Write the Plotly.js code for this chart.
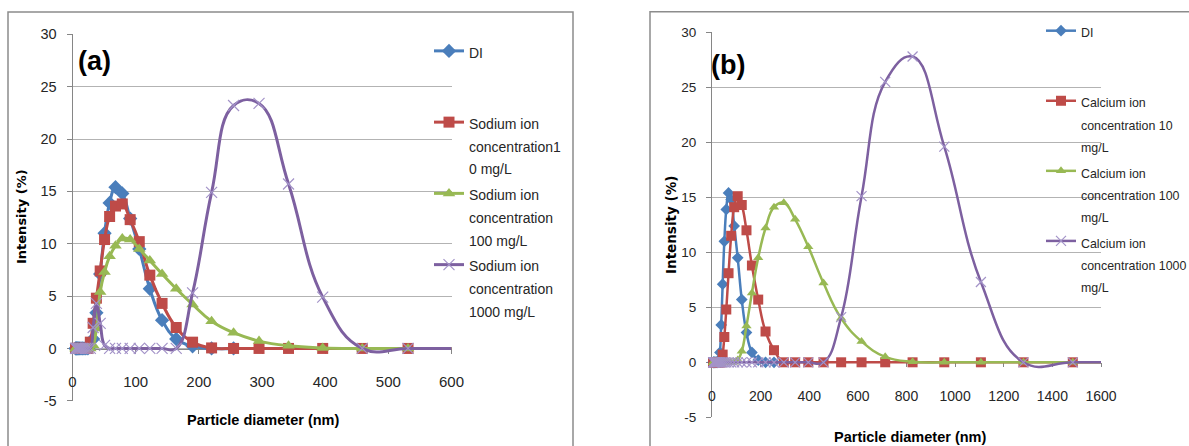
<!DOCTYPE html>
<html>
<head>
<meta charset="utf-8">
<script src="https://cdn.plot.ly/plotly-3.0.1.min.js"></script>
<style>
  html, body { margin: 0; padding: 0; background: #ffffff; }
  #chart { width: 1189px; height: 446px; }
</style>
</head>
<body>
<div id="chart"></div>
<script>
// ---- Data (particle size bins, nm) ----
const diameter = [4.849, 5.615, 6.503, 7.531, 8.721, 10.1, 11.7, 13.54, 15.69, 18.17,
  21.04, 24.36, 28.21, 32.67, 37.84, 43.82, 50.75, 58.77, 68.06, 78.82,
  91.28, 105.7, 122.4, 141.8, 164.2, 190.1, 220.2, 255, 295.3, 342,
  396.1, 458.7, 531.2, 615.1, 712.4, 825, 955.4, 1106, 1281, 1484, 1718];

// DI (same sample in both panels), intensity %
const diIntensity = [0, 0, 0, 0, 0, 0, 0, 0, 0, 0,
  0, 0, 0.2, 0.9, 3.4, 7.1, 11.0, 13.9, 15.4, 14.8,
  12.4, 9.5, 5.7, 2.7, 0.9, 0.2, 0, 0];

// Panel (a): sodium ion
const sodium10 = [0, 0, 0, 0, 0, 0, 0, 0, 0, 0,
  0, 0, 0.6, 2.4, 4.8, 7.4, 10.4, 12.6, 13.6, 13.8,
  12.3, 10.2, 7.0, 4.3, 2.0, 0.6, 0.05, 0, 0, 0,
  0, 0, 0, 0, 0, 0, 0, 0, 0, 0, 0];
const sodium100 = [0, 0, 0, 0, 0, 0, 0, 0, 0, 0,
  0, 0, 0, 0.3, 1.9, 5.4, 7.3, 8.8, 9.8, 10.5,
  10.4, 9.5, 8.4, 7.1, 5.7, 4.2, 2.6, 1.5, 0.7, 0.25,
  0.05, 0, 0, 0, 0, 0, 0, 0, 0, 0, 0];
const sodium1000 = [0, 0, 0, 0, 0, 0, 0, 0, 0, 0,
  0, 0, 0, 2.0, 4.3, 2.4, 0.3, 0, 0, 0,
  0, 0, 0, 0, 0, 5.3, 14.9, 23.2, 23.4, 15.7,
  4.9, 0, 0, 0, 0, 0, 0, 0, 0, 0, 0];

// Panel (b): calcium ion
const calcium10 = [0, 0, 0, 0, 0, 0, 0, 0, 0, 0,
  0, 0, 0, 0, 0, 0.7, 2.3, 4.8, 8.1, 11.5,
  14.1, 15.1, 14.3, 12.0, 8.8, 5.7, 2.8, 1.1, 0, 0,
  0, 0, 0, 0, 0, 0, 0, 0, 0, 0, 0];
const calcium100 = [0, 0, 0, 0, 0, 0, 0, 0, 0, 0,
  0, 0, 0, 0, 0, 0, 0, 0, 0, 0,
  0, 0.2, 1.0, 3.3, 6.3, 9.5, 12.2, 14.1, 14.5, 13.0,
  10.5, 7.2, 4.0, 1.9, 0.5, 0.05, 0, 0, 0, 0, 0];
const calcium1000 = [0, 0, 0, 0, 0, 0, 0, 0, 0, 0,
  0, 0, 0, 0, 0, 0, 0, 0, 0, 0,
  0, 0, 0, 0, 0, 0, 0, 0, 0, 0,
  0, 0, 4.1, 15.1, 25.5, 27.8, 19.6, 7.3, 0, 0, 0];

// Legend labels (line by line, as wrapped in the original)
const namesA = [['DI', '\u00a0', '\u00a0'],
  ['Sodium ion', 'concentration1', '0 mg/L'],
  ['Sodium ion', 'concentration', '100 mg/L'],
  ['Sodium ion', 'concentration', '1000 mg/L']];
const namesB = [['DI', '\u00a0', '\u00a0'],
  ['Calcium ion', 'concentration 10', 'mg/L'],
  ['Calcium ion', 'concentration 100', 'mg/L'],
  ['Calcium ion', 'concentration 1000', 'mg/L']];

const xTicksA = [0, 100, 200, 300, 400, 500, 600];
const xTicksB = [0, 200, 400, 600, 800, 1000, 1200, 1400, 1600];
const yTicks = [-5, 0, 5, 10, 15, 20, 25, 30];

// ---- Styles ----
const SANS = '"Liberation Sans", Arial, sans-serif';
const TXT = '#262626';
const GRID = '#b3b3b3';
const AXIS = '#868686';
const C = {
  blue: '#4A7EBB', red: '#BE4B48', green: '#98B954', purple: '#7D60A0', xmark: '#A393C8'
};
const W = 1189, H = 446;
const px = v => v / W;
const py = v => 1 - v / H;
const label = (lines, fs) => lines.map(s => '<span style="font-size:' + fs + 'px">' + s + '</span>').join('<br>');

function series(x, y, name, color, symbol, size, lw, xa, ya, leg, markerOpts) {
  const marker = Object.assign({ symbol: symbol, size: size, color: color,
    line: { width: 0, color: color } }, markerOpts || {});
  return {
    type: 'scatter', mode: 'lines+markers', x: x, y: y, name: name,
    xaxis: xa, yaxis: ya, legend: leg, cliponaxis: false,
    line: { color: color, width: lw, shape: 'spline', smoothing: 1.25 },
    marker: marker
  };
}

const xmarkA = { color: C.xmark, line: { width: 1.2, color: C.xmark } };

const traces = [
  series(diameter.slice(0, diIntensity.length), diIntensity, label(namesA[0], 14), C.blue, 'diamond', 11, 3, 'x', 'y', 'legend'),
  series(diameter, sodium10, label(namesA[1], 14), C.red, 'square', 11, 3, 'x', 'y', 'legend'),
  series(diameter, sodium100, label(namesA[2], 14), C.green, 'triangle-up', 11, 3, 'x', 'y', 'legend'),
  series(diameter, sodium1000, label(namesA[3], 14), C.purple, 'x-thin-open', 11, 3, 'x', 'y', 'legend', xmarkA),
  series(diameter.slice(0, diIntensity.length), diIntensity, label(namesB[0], 12.4), C.blue, 'diamond', 9, 2.5, 'x2', 'y2', 'legend2'),
  series(diameter, calcium10, label(namesB[1], 12.4), C.red, 'square', 10, 2.5, 'x2', 'y2', 'legend2'),
  series(diameter, calcium100, label(namesB[2], 12.4), C.green, 'triangle-up', 9, 2.5, 'x2', 'y2', 'legend2'),
  series(diameter, calcium1000, label(namesB[3], 12.4), C.purple, 'x-thin-open', 10, 2.5, 'x2', 'y2', 'legend2', xmarkA)
];

function xAxis(domain, range, ticks, pos, fs, standoff) {
  return {
    domain: domain, range: range, tickmode: 'array', tickvals: ticks, ticktext: ticks.map(String),
    anchor: 'free', position: pos, showline: true, linecolor: AXIS, linewidth: 1,
    ticks: 'outside', ticklen: 4, tickcolor: AXIS, showgrid: false, zeroline: false,
    tickfont: { family: SANS, size: fs, color: TXT }, ticklabelstandoff: standoff,
    layer: 'below traces', fixedrange: true
  };
}
function yAxis(domain, anchor, fs) {
  return {
    domain: domain, range: [-5, 30], tickmode: 'array', tickvals: yTicks, ticktext: yTicks.map(String),
    anchor: anchor, showline: true, linecolor: AXIS, linewidth: 1,
    showgrid: true, gridcolor: GRID, gridwidth: 1, zeroline: false,
    ticks: 'outside', ticklen: 5, tickcolor: AXIS,
    tickfont: { family: SANS, size: fs, color: TXT }, ticklabelstandoff: 7,
    layer: 'below traces', fixedrange: true
  };
}

const layout = {
  width: W, height: H,
  margin: { l: 0, r: 0, t: 0, b: 0, autoexpand: false },
  paper_bgcolor: '#ffffff', plot_bgcolor: 'rgba(0,0,0,0)',
  showlegend: true,
  xaxis: xAxis([px(72.5), px(451.5)], [0, 600], xTicksA, py(348.5), 15, 15),
  yaxis: yAxis([py(400.8), py(34.3)], 'x', 14.5),
  xaxis2: xAxis([px(712), px(1101)], [0, 1600], xTicksB, py(362.3), 14, 17),
  yaxis2: yAxis([py(417.3), py(32.3)], 'x2', 13.5),
  legend: {
    x: px(429), y: py(33), xanchor: 'left', yanchor: 'top',
    bgcolor: 'rgba(0,0,0,0)', borderwidth: 0, valign: 'top', itemwidth: 30,
    font: { family: SANS, size: 17.5, color: TXT }
  },
  legend2: {
    x: px(1041), y: py(13), xanchor: 'left', yanchor: 'top',
    bgcolor: 'rgba(0,0,0,0)', borderwidth: 0, valign: 'top', itemwidth: 30,
    font: { family: SANS, size: 17.2, color: TXT }
  },
  shapes: [
    { type: 'rect', xref: 'paper', yref: 'paper', x0: px(8), x1: px(573), y0: -0.2, y1: py(12),
      line: { color: '#8c8c8c', width: 1.5 }, fillcolor: 'rgba(0,0,0,0)', layer: 'below' },
    { type: 'rect', xref: 'paper', yref: 'paper', x0: px(650), x1: 1.2, y0: -0.2, y1: py(11.7),
      line: { color: '#8c8c8c', width: 1.5 }, fillcolor: 'rgba(0,0,0,0)', layer: 'below' }
  ],
  annotations: [
    { text: '(a)', xref: 'paper', yref: 'paper', x: px(94.5), y: py(61), showarrow: false,
      xanchor: 'center', yanchor: 'middle', font: { family: SANS, size: 27, color: '#000', weight: 'bold' } },
    { text: '(b)', xref: 'paper', yref: 'paper', x: px(728), y: py(65), showarrow: false,
      xanchor: 'center', yanchor: 'middle', font: { family: SANS, size: 27, color: '#000', weight: 'bold' } },
    { text: 'Intensity (%)', xref: 'paper', yref: 'paper', x: px(22), y: py(217), showarrow: false,
      textangle: -90, xanchor: 'center', yanchor: 'middle',
      font: { family: '"DejaVu Sans", Verdana, sans-serif', size: 13, color: '#000', weight: 'bold' } },
    { text: 'Intensity (%)', xref: 'paper', yref: 'paper', x: px(671), y: py(225), showarrow: false,
      textangle: -90, xanchor: 'center', yanchor: 'middle',
      font: { family: '"DejaVu Sans", Verdana, sans-serif', size: 13.5, color: '#000', weight: 'bold' } },
    { text: 'Particle diameter (nm)', xref: 'paper', yref: 'paper', x: px(263), y: py(420), showarrow: false,
      xanchor: 'center', yanchor: 'middle', font: { family: SANS, size: 14.5, color: '#000', weight: 'bold' } },
    { text: 'Particle diameter (nm)', xref: 'paper', yref: 'paper', x: px(910), y: py(437), showarrow: false,
      xanchor: 'center', yanchor: 'middle', font: { family: SANS, size: 14.5, color: '#000', weight: 'bold' } }
  ]
};

Plotly.newPlot('chart', traces, layout, { staticPlot: true, displayModeBar: false });
</script>
</body>
</html>
